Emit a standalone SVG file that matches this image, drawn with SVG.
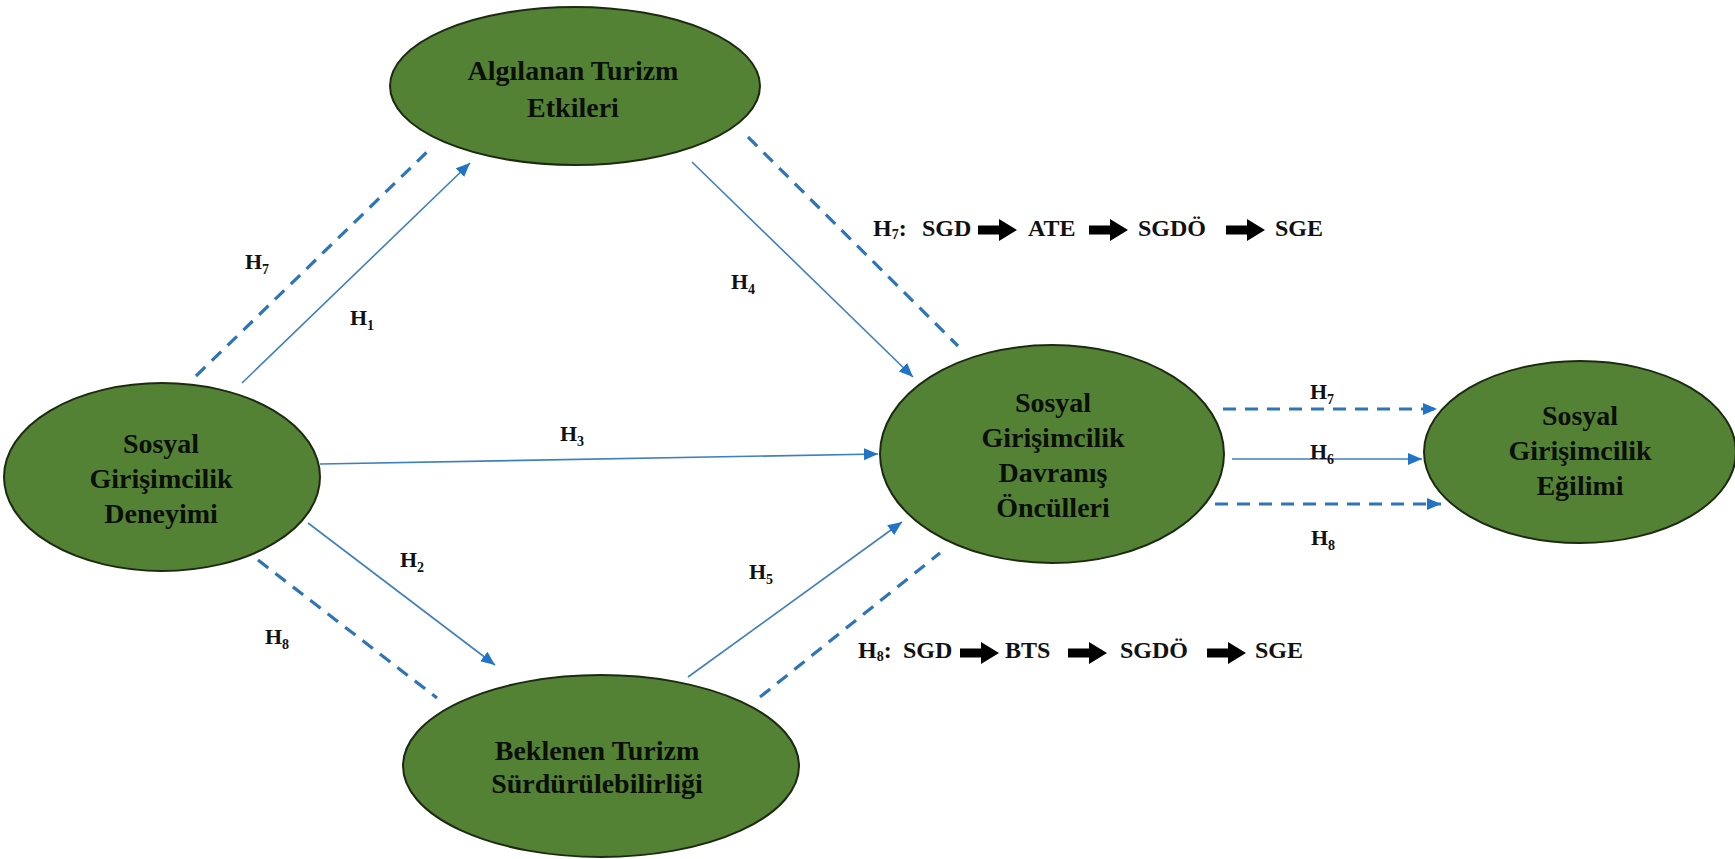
<svg xmlns="http://www.w3.org/2000/svg" width="1735" height="859" viewBox="0 0 1735 859">
  <defs>
    <style>
      .node ellipse { fill: #548235; stroke: #1c2a12; stroke-width: 2; }
      .node text { font-family: "Liberation Serif", "Times New Roman", serif; font-weight: bold; font-size: 28px; fill: #0b0f08; text-anchor: middle; }
      .solid { stroke: #3f7fc0; stroke-width: 1.6; fill: none; marker-end: url(#tip); }
      .dash { stroke: #2e75b6; stroke-width: 3.2; fill: none; stroke-dasharray: 13 9; }
      .dash-arrow { marker-end: url(#tipBig); }
      .lbl { font-family: "Liberation Serif", "Times New Roman", serif; font-weight: bold; font-size: 22px; fill: #111; text-anchor: middle; }
      .sub { font-size: 14px; }
      .path-text { font-family: "Liberation Serif", "Times New Roman", serif; font-weight: bold; font-size: 24px; fill: #111; }
    </style>
    <marker id="tip" markerUnits="userSpaceOnUse" markerWidth="14" markerHeight="12" refX="14" refY="6" orient="auto">
      <path d="M0,0 L14,6 L0,12 z" fill="#1f74c8"/>
    </marker>
    <marker id="tipBig" markerUnits="userSpaceOnUse" markerWidth="14" markerHeight="12" refX="14" refY="6" orient="auto">
      <path d="M0,0 L14,6 L0,12 z" fill="#1f74c8"/>
    </marker>
    <!-- thick black block arrow used in the path formulas -->
    <path id="blk" d="M0,-4.5 L21,-4.5 L21,-11 L39,0 L21,11 L21,4.5 L0,4.5 z" fill="#000"/>
  </defs>

  <rect width="1735" height="859" fill="#ffffff"/>

  <g id="connectors">
    <!-- H1 / H7: SGD -> ATE -->
    <line class="solid" x1="242" y1="383" x2="470" y2="163"/>
    <line class="dash" x1="196" y1="376" x2="428" y2="151"/>
    <!-- H4 / H7: ATE -> SGDÖ -->
    <line class="solid" x1="692" y1="162" x2="913" y2="377"/>
    <line class="dash" x1="748" y1="137" x2="958" y2="346"/>
    <!-- H3: SGD -> SGDÖ -->
    <line class="solid" x1="320" y1="464" x2="878" y2="454"/>
    <!-- H2 / H8: SGD -> BTS -->
    <line class="solid" x1="308" y1="523" x2="495" y2="665"/>
    <line class="dash" x1="258" y1="560" x2="437" y2="698"/>
    <!-- H5 / H8: BTS -> SGDÖ -->
    <line class="solid" x1="688" y1="677" x2="902" y2="522"/>
    <line class="dash" x1="760" y1="697" x2="940" y2="553"/>
    <!-- H7, H6, H8: SGDÖ -> SGE -->
    <line class="dash dash-arrow" x1="1223" y1="409" x2="1437" y2="409"/>
    <line class="solid" x1="1232" y1="459" x2="1422" y2="459"/>
    <line class="dash dash-arrow" x1="1215" y1="504" x2="1441" y2="504"/>
  </g>

  <g id="labels">
    <text class="lbl" x="257" y="269">H<tspan class="sub" dy="5">7</tspan></text>
    <text class="lbl" x="362" y="325">H<tspan class="sub" dy="5">1</tspan></text>
    <text class="lbl" x="743" y="289">H<tspan class="sub" dy="5">4</tspan></text>
    <text class="lbl" x="572" y="441">H<tspan class="sub" dy="5">3</tspan></text>
    <text class="lbl" x="412" y="567">H<tspan class="sub" dy="5">2</tspan></text>
    <text class="lbl" x="277" y="644">H<tspan class="sub" dy="5">8</tspan></text>
    <text class="lbl" x="761" y="579">H<tspan class="sub" dy="5">5</tspan></text>
    <text class="lbl" x="1322" y="399">H<tspan class="sub" dy="5">7</tspan></text>
    <text class="lbl" x="1322" y="459">H<tspan class="sub" dy="5">6</tspan></text>
    <text class="lbl" x="1323" y="545">H<tspan class="sub" dy="5">8</tspan></text>
  </g>

  <g id="path-h7">
    <text class="path-text" x="873" y="236">H<tspan class="sub" font-size="15" dy="3">7</tspan><tspan dy="-3">:</tspan></text>
    <text class="path-text" x="922" y="236">SGD</text>
    <use href="#blk" x="978" y="230"/>
    <text class="path-text" x="1028" y="236">ATE</text>
    <use href="#blk" x="1089" y="230"/>
    <text class="path-text" x="1138" y="236">SGDÖ</text>
    <use href="#blk" x="1226" y="230"/>
    <text class="path-text" x="1275" y="236">SGE</text>
  </g>

  <g id="path-h8">
    <text class="path-text" x="858" y="658">H<tspan class="sub" font-size="15" dy="3">8</tspan><tspan dy="-3">:</tspan></text>
    <text class="path-text" x="903" y="658">SGD</text>
    <use href="#blk" x="960" y="653"/>
    <text class="path-text" x="1005" y="658">BTS</text>
    <use href="#blk" x="1068" y="653"/>
    <text class="path-text" x="1120" y="658">SGDÖ</text>
    <use href="#blk" x="1207" y="653"/>
    <text class="path-text" x="1255" y="658">SGE</text>
  </g>

  <g id="node-sgd" class="node">
    <ellipse cx="162" cy="477" rx="158" ry="94"/>
    <text x="161" y="453">Sosyal</text>
    <text x="161" y="488">Girişimcilik</text>
    <text x="161" y="523">Deneyimi</text>
  </g>

  <g id="node-ate" class="node">
    <ellipse cx="575" cy="86" rx="185" ry="79"/>
    <text x="573" y="80">Algılanan Turizm</text>
    <text x="573" y="117">Etkileri</text>
  </g>

  <g id="node-sgdo" class="node">
    <ellipse cx="1052" cy="454" rx="172" ry="109"/>
    <text x="1053" y="412">Sosyal</text>
    <text x="1053" y="447">Girişimcilik</text>
    <text x="1053" y="482">Davranış</text>
    <text x="1053" y="517">Öncülleri</text>
  </g>

  <g id="node-bts" class="node">
    <ellipse cx="601" cy="766" rx="198" ry="91"/>
    <text x="597" y="760">Beklenen Turizm</text>
    <text x="597" y="793">Sürdürülebilirliği</text>
  </g>

  <g id="node-sge" class="node">
    <ellipse cx="1580" cy="452" rx="156" ry="91"/>
    <text x="1580" y="425">Sosyal</text>
    <text x="1580" y="460">Girişimcilik</text>
    <text x="1580" y="495">Eğilimi</text>
  </g>
</svg>
